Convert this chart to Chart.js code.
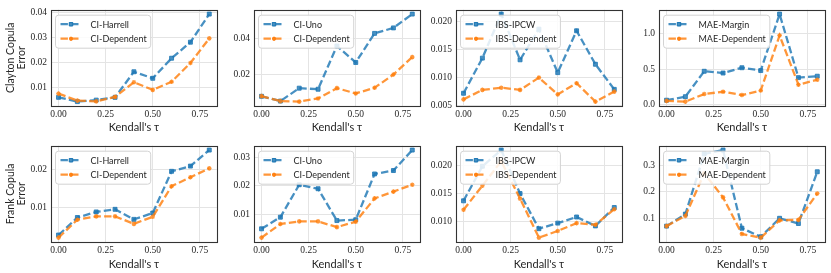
<!DOCTYPE html>
<html>
<head>
<meta charset="UTF-8">
<title>Copula error vs Kendall's tau</title>
<script src="https://cdn.jsdelivr.net/npm/chart.js"></script>
<style>
  body { margin: 0; background: #fff; width: 831px; height: 273px; position: relative; overflow: hidden; }
  canvas { position: absolute; }
</style>
</head>
<body>
<script>
// x values and ticks shared by every panel
const taus = [0.0, 0.1, 0.2, 0.3, 0.4, 0.5, 0.6, 0.7, 0.8];
const xTicks = [0, 0.25, 0.5, 0.75];

// Clayton copula (top row)
const claytonHarrell = [0.0062, 0.0045, 0.0051, 0.0062, 0.0164, 0.0138, 0.0218, 0.0282, 0.0394];
const claytonCIDep   = [0.0077, 0.0049, 0.0046, 0.0064, 0.0122, 0.0092, 0.0124, 0.0199, 0.0297];
const claytonUno     = [0.0076, 0.0049, 0.0122, 0.0116, 0.0360, 0.0267, 0.0431, 0.0462, 0.0540];
const claytonIpcw    = [0.0072, 0.0135, 0.0214, 0.0132, 0.0187, 0.0109, 0.0184, 0.0124, 0.0079];
const claytonIbsDep  = [0.0061, 0.0078, 0.0082, 0.0078, 0.0100, 0.0070, 0.0090, 0.0057, 0.0075];
const claytonMargin  = [0.06, 0.11, 0.47, 0.445, 0.52, 0.48, 1.28, 0.38, 0.40];
const claytonMaeDep  = [0.05, 0.04, 0.147, 0.18, 0.133, 0.197, 0.977, 0.28, 0.35];

// Frank copula (bottom row)
const frankHarrell = [0.0025, 0.0072, 0.0087, 0.0094, 0.0067, 0.0084, 0.0196, 0.0210, 0.0253];
const frankCIDep   = [0.0018, 0.0066, 0.0075, 0.0075, 0.0055, 0.0074, 0.0156, 0.0180, 0.0204];
const frankUno     = [0.0049, 0.0090, 0.0204, 0.0190, 0.0078, 0.0081, 0.0242, 0.0254, 0.0326];
const frankIpcw    = [0.0137, 0.0199, 0.0228, 0.0150, 0.0087, 0.0097, 0.0108, 0.0092, 0.0125];
const frankIbsDep  = [0.0121, 0.0164, 0.0208, 0.0141, 0.0071, 0.0083, 0.0097, 0.0094, 0.0122];
const frankMargin  = [0.069, 0.115, 0.345, 0.360, 0.061, 0.028, 0.099, 0.079, 0.277];
const frankMaeDep  = [0.069, 0.108, 0.271, 0.179, 0.039, 0.025, 0.091, 0.093, 0.194];

// y tick labels
const ticksClaytonCI  = [0.01, 0.02, 0.03, 0.04];
const ticksClaytonUno = [0.02, 0.04];
const ticksClaytonIbs = [0.005, 0.010, 0.015, 0.020];
const ticksClaytonMae = [0.0, 0.5, 1.0];
const ticksFrankCI    = [0.01, 0.02];
const ticksFrankUno   = [0.01, 0.02, 0.03];
const ticksFrankIbs   = [0.010, 0.015, 0.020];
const ticksFrankMae   = [0.1, 0.2, 0.3];

const BLUE = 'rgba(31,119,180,0.82)';
const ORANGE = 'rgba(255,127,14,0.82)';
const GRID = '#e4e4e4';
const INK = '#262626';
const SANS = 'Lato, "DejaVu Sans", sans-serif';
const SERIF = '"Liberation Serif", "DejaVu Serif", serif';

const panels = [
  { row: 0, col: 0, blue: claytonHarrell, orange: claytonCIDep, names: ['CI-Harrell', 'CI-Dependent'], ticks: ticksClaytonCI, dec: 2, ytitle: ['Clayton Copula', 'Error'] },
  { row: 0, col: 1, blue: claytonUno, orange: claytonCIDep, names: ['CI-Uno', 'CI-Dependent'], ticks: ticksClaytonUno, dec: 2 },
  { row: 0, col: 2, blue: claytonIpcw, orange: claytonIbsDep, names: ['IBS-IPCW', 'IBS-Dependent'], ticks: ticksClaytonIbs, dec: 3 },
  { row: 0, col: 3, blue: claytonMargin, orange: claytonMaeDep, names: ['MAE-Margin', 'MAE-Dependent'], ticks: ticksClaytonMae, dec: 1 },
  { row: 1, col: 0, blue: frankHarrell, orange: frankCIDep, names: ['CI-Harrell', 'CI-Dependent'], ticks: ticksFrankCI, dec: 2, ytitle: ['Frank Copula', 'Error'] },
  { row: 1, col: 1, blue: frankUno, orange: frankCIDep, names: ['CI-Uno', 'CI-Dependent'], ticks: ticksFrankUno, dec: 2 },
  { row: 1, col: 2, blue: frankIpcw, orange: frankIbsDep, names: ['IBS-IPCW', 'IBS-Dependent'], ticks: ticksFrankIbs, dec: 3 },
  { row: 1, col: 3, blue: frankMargin, orange: frankMaeDep, names: ['MAE-Margin', 'MAE-Dependent'], ticks: ticksFrankMae, dec: 1 }
];

// layout of the plot areas, in page pixels
const plotLefts = [51, 254, 456, 659];
const plotW = 167;
const rowTops = [0, 136];
const rowHeights = [136, 137];
const xAxisH = [30, 31];

// axes frame drawn on all four sides
const framePlugin = {
  id: 'frame',
  afterDatasetsDraw(chart) {
    const a = chart.chartArea, ctx = chart.ctx;
    ctx.save();
    ctx.strokeStyle = '#333';
    ctx.lineWidth = 1.1;
    ctx.strokeRect(Math.round(a.left) + 0.5, Math.round(a.top) + 0.5, Math.round(a.right - a.left), Math.round(a.bottom - a.top));
    ctx.restore();
  }
};

// matplotlib-like legend inside the upper left of the axes
const boxLegend = {
  id: 'boxLegend',
  afterDraw(chart) {
    const a = chart.chartArea, ctx = chart.ctx;
    const sets = chart.data.datasets.slice().sort((p, q) => p.legendIndex - q.legendIndex);
    ctx.save();
    ctx.font = '9px ' + SANS;
    const tw = Math.max(...sets.map(d => ctx.measureText(d.label).width));
    const x0 = a.left + 4.5, y0 = a.top + 5.5;
    const w = 35 + tw + 4, h = 33;
    ctx.beginPath();
    ctx.roundRect(x0, y0, w, h, 3);
    ctx.fillStyle = 'rgba(255,255,255,0.85)';
    ctx.fill();
    ctx.strokeStyle = '#d3d3d3';
    ctx.lineWidth = 1;
    ctx.stroke();
    sets.forEach((d, i) => {
      const cy = y0 + 9 + i * 14.5;
      ctx.strokeStyle = d.borderColor;
      ctx.lineWidth = d.borderWidth;
      ctx.setLineDash(d.borderDash);
      ctx.beginPath();
      ctx.moveTo(x0 + 5, cy);
      ctx.lineTo(x0 + 26, cy);
      ctx.stroke();
      ctx.setLineDash([]);
      ctx.lineWidth = d.pointBorderWidth;
      Chart.helpers.drawPoint(ctx, {
        pointStyle: d.pointStyle, radius: d.pointRadius * 0.85, borderWidth: d.pointBorderWidth, rotation: 0
      }, x0 + 15.5, cy);
      ctx.fillStyle = d.borderColor;
      ctx.fill();
      ctx.stroke();
      ctx.fillStyle = INK;
      ctx.textBaseline = 'middle';
      ctx.fillText(d.label, x0 + 35, cy + 0.5);
    });
    ctx.restore();
  }
};

function series(values) {
  return taus.map((t, i) => ({ x: t, y: values[i] }));
}

panels.forEach(p => {
  const yw = p.col === 0 ? plotLefts[0] : 36;
  const left = plotLefts[p.col] - yw;
  const width = yw + plotW + 4;
  const height = rowHeights[p.row];
  const c = document.createElement('canvas');
  c.width = width;
  c.height = height;
  c.style.left = left + 'px';
  c.style.top = rowTops[p.row] + 'px';
  c.style.width = width + 'px';
  c.style.height = height + 'px';
  document.body.appendChild(c);

  const all = p.blue.concat(p.orange);
  const lo = Math.min(...all), hi = Math.max(...all);
  const m = (hi - lo) * 0.05;

  new Chart(c, {
    type: 'line',
    data: {
      datasets: [
        { label: p.names[0], legendIndex: 0, order: 1, data: series(p.blue), borderColor: BLUE, backgroundColor: BLUE,
          borderWidth: 2.3, borderDash: [7.4, 3.2], pointStyle: 'rect', pointRadius: 2.8, pointBorderWidth: 1, tension: 0 },
        { label: p.names[1], legendIndex: 1, order: 0, data: series(p.orange), borderColor: ORANGE, backgroundColor: ORANGE,
          borderWidth: 2.3, borderDash: [7.4, 3.2], pointStyle: 'star', pointRadius: 2.3, pointBorderWidth: 1.2, tension: 0 }
      ]
    },
    options: {
      animation: false,
      responsive: false,
      devicePixelRatio: 1,
      layout: { padding: { top: 6, right: 4, left: 0, bottom: 0 } },
      plugins: { legend: { display: false }, tooltip: { enabled: false } },
      scales: {
        x: {
          type: 'linear', min: -0.04, max: 0.84,
          afterBuildTicks: s => { s.ticks = xTicks.map(v => ({ value: v })); },
          afterFit: s => { s.height = xAxisH[p.row]; },
          grid: { color: GRID, drawTicks: false },
          border: { display: false },
          ticks: { font: { family: SERIF, size: 9.5 }, color: INK, padding: 3, maxRotation: 0, autoSkip: false,
                   callback: v => Number(v).toFixed(2) },
          title: { display: true, text: "Kendall's τ", font: { family: SANS, size: 11 }, color: INK, padding: { top: 0, bottom: 2 } }
        },
        y: {
          type: 'linear', min: lo - m, max: hi + m,
          afterBuildTicks: s => { s.ticks = p.ticks.map(v => ({ value: v })); },
          afterFit: s => { s.width = yw; },
          grid: { color: GRID, drawTicks: false },
          border: { display: false },
          ticks: { font: { family: SERIF, size: 9.5 }, color: INK, padding: 4, autoSkip: false,
                   callback: v => Number(v).toFixed(p.dec) },
          title: p.ytitle
            ? { display: true, text: p.ytitle, font: { family: SANS, size: 10.5, lineHeight: 1.05 }, color: INK, padding: { top: 5, bottom: 0 } }
            : { display: false }
        }
      }
    },
    plugins: [framePlugin, boxLegend]
  });
});
</script>
</body>
</html>
